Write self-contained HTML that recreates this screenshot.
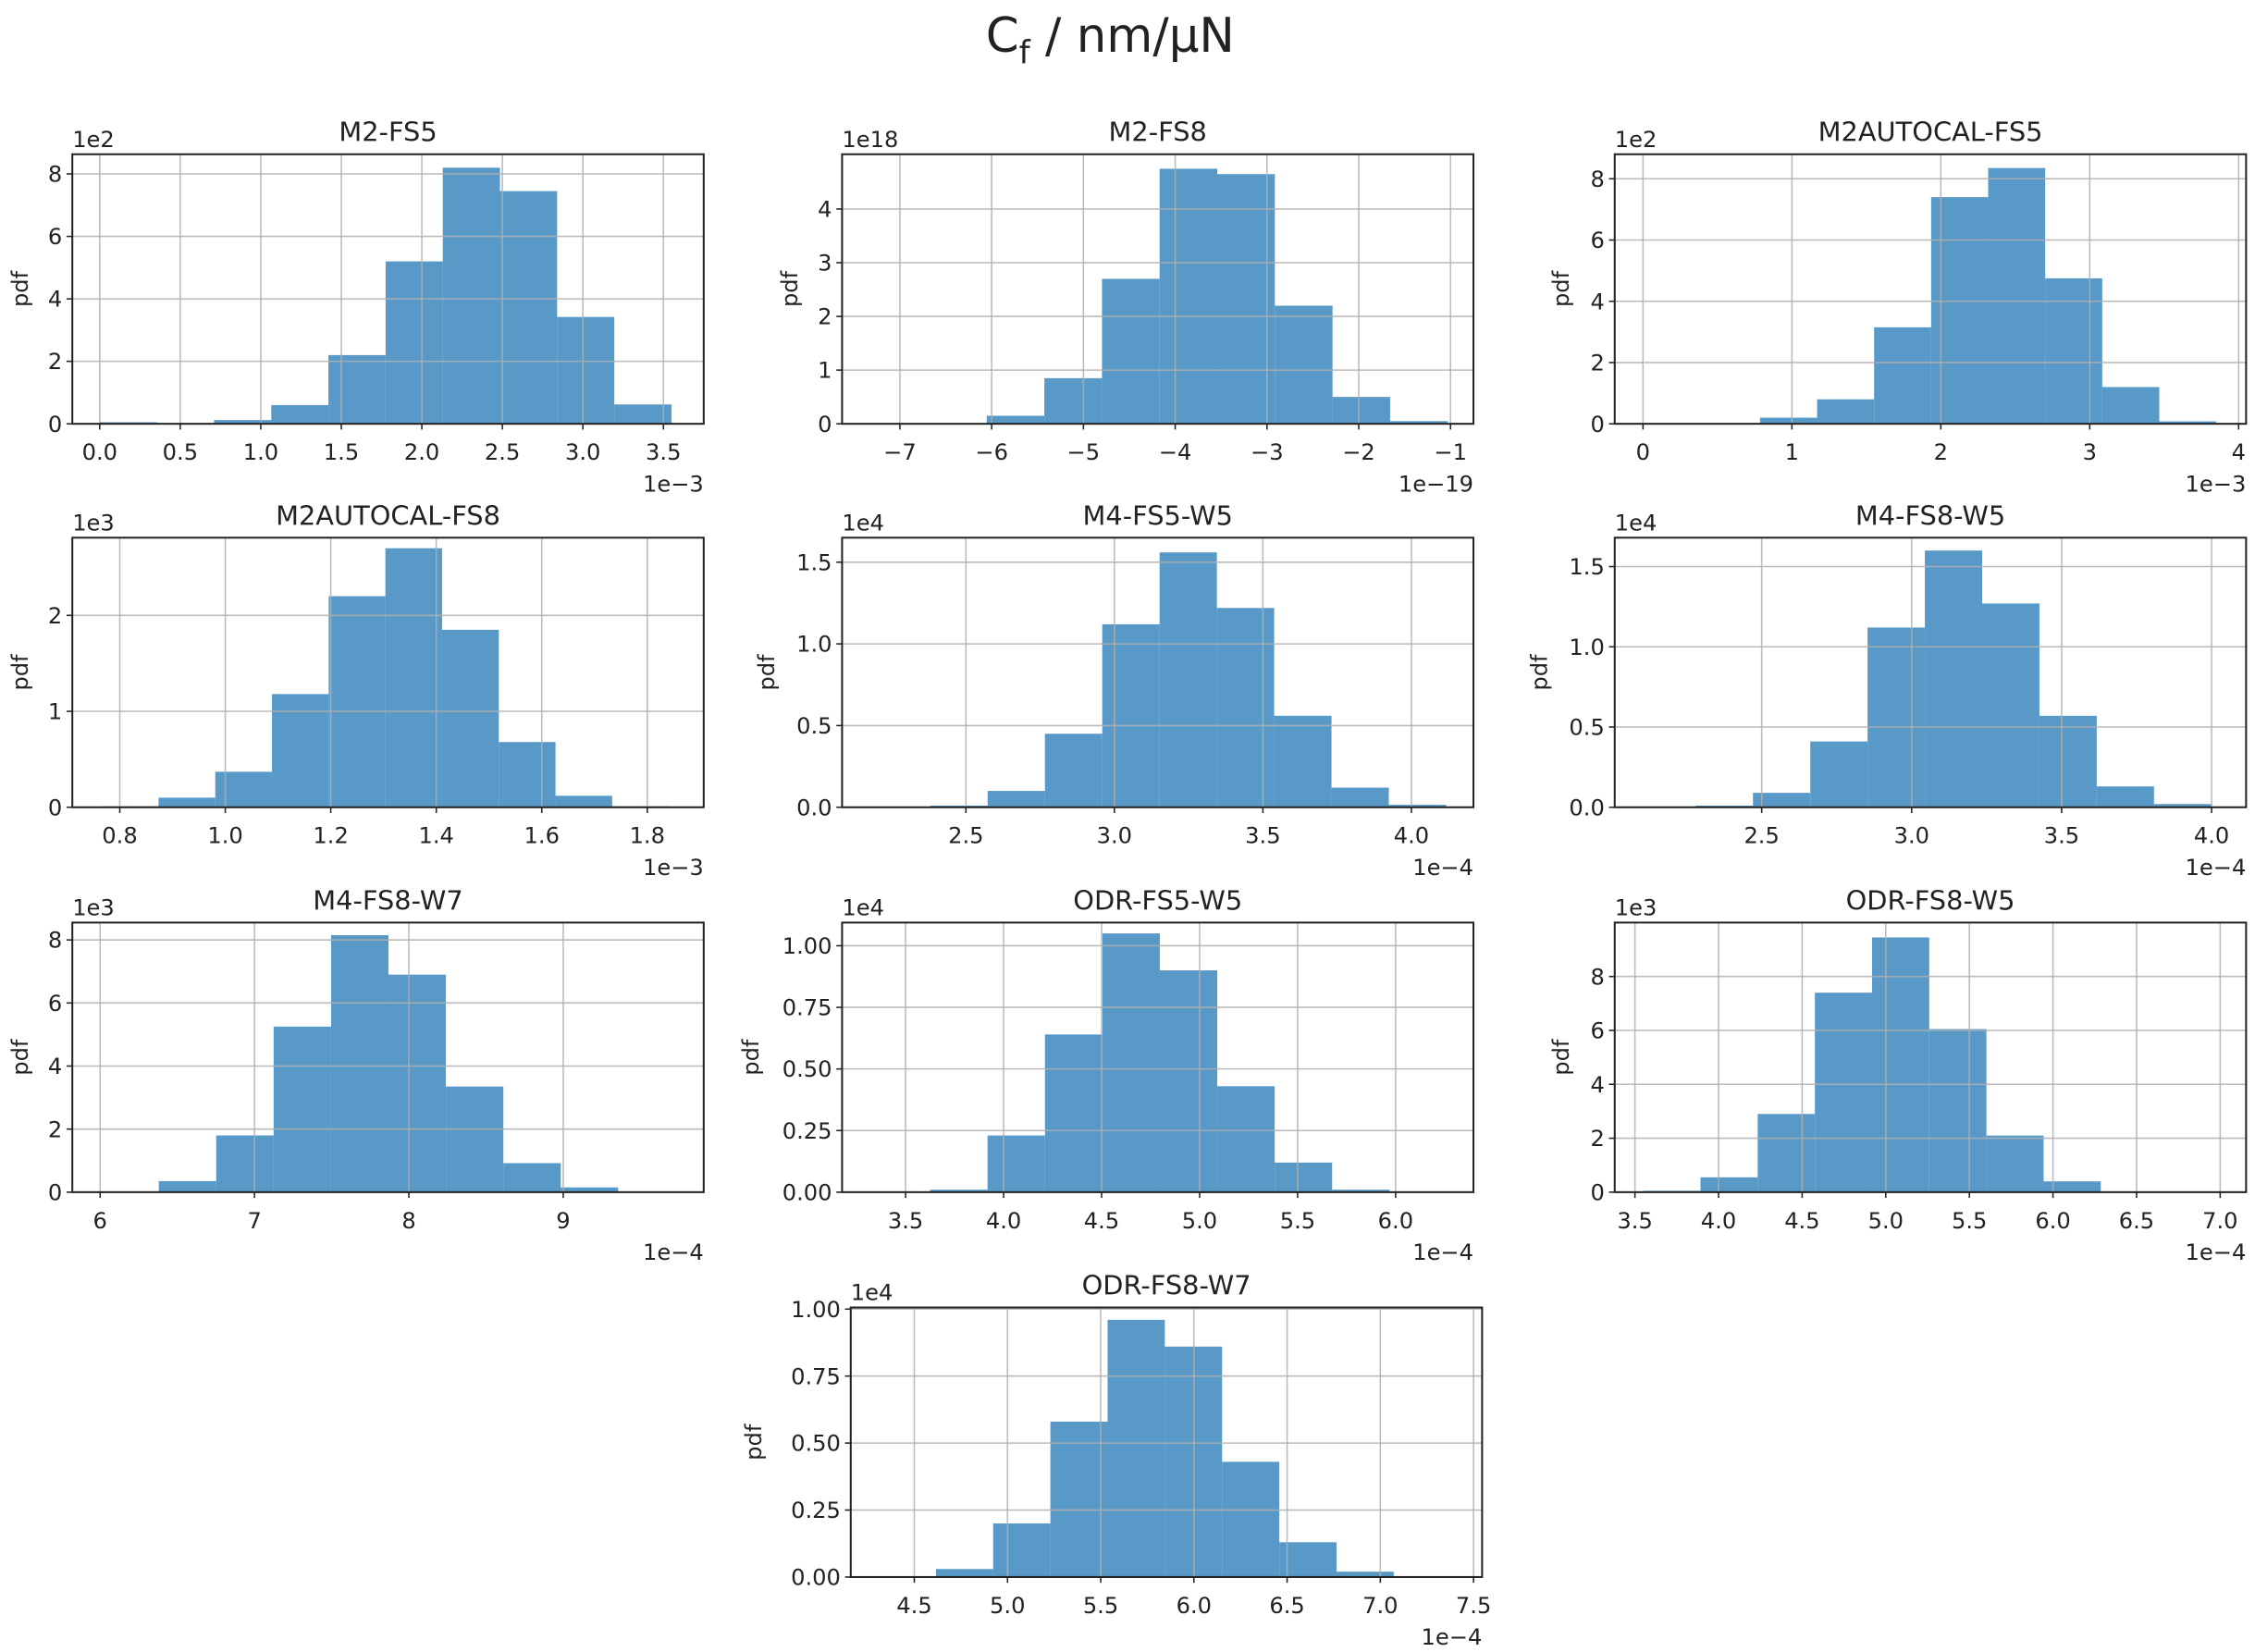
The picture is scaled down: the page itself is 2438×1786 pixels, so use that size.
<!DOCTYPE html>
<html><head><meta charset="utf-8"><style>
html,body{margin:0;padding:0;background:#fff}
svg{display:block}
text{font-family:"DejaVu Sans","Liberation Sans",sans-serif;fill:#222}
</style></head><body>
<svg id="fig" width="2438" height="1786" viewBox="0 0 1564 1146" xmlns="http://www.w3.org/2000/svg">
<text x="770" y="36" text-anchor="middle" font-size="33">C<tspan font-size="22" dy="8">f</tspan><tspan dy="-8"> / nm/μN</tspan></text>
</svg>
<script>
// ---- data arrays (per panel) ----
const titles = ["M2-FS5","M2-FS8","M2AUTOCAL-FS5","M2AUTOCAL-FS8","M4-FS5-W5","M4-FS8-W5","M4-FS8-W7","ODR-FS5-W5","ODR-FS8-W5","ODR-FS8-W7"];
const yExp = ["1e2","1e18","1e2","1e3","1e4","1e4","1e3","1e4","1e3","1e4"];
const xExp = ["1e\u22123","1e\u221219","1e\u22123","1e\u22123","1e\u22124","1e\u22124","1e\u22124","1e\u22124","1e\u22124","1e\u22124"];
const binStart = [0.0,-7.31,0.02,0.766,2.187,2.28,6.38,3.625,3.55,4.616];
const binWidth = [0.355,0.628,0.383,0.1075,0.193,0.191,0.372,0.293,0.342,0.307];
const h0 = [0.05,0.02,0.12,0.6,2.2,5.2,8.2,7.45,3.42,0.62];
const h1 = [0.0,0.01,0.15,0.85,2.7,4.75,4.65,2.2,0.5,0.05];
const h2 = [0.01,0.01,0.2,0.8,3.15,7.4,8.35,4.75,1.2,0.08];
const h3 = [0.01,0.1,0.37,1.18,2.2,2.7,1.85,0.68,0.12,0.01];
const h4 = [0.004,0.01,0.1,0.45,1.12,1.56,1.22,0.56,0.12,0.015];
const h5 = [0.01,0.09,0.41,1.12,1.6,1.27,0.57,0.13,0.02];
const h6 = [0.35,1.8,5.25,8.15,6.9,3.35,0.92,0.15];
const h7 = [0.01,0.23,0.64,1.05,0.9,0.43,0.12,0.01];
const h8 = [0.05,0.55,2.9,7.4,9.45,6.05,2.1,0.4,0.02];
const h9 = [0.03,0.2,0.58,0.96,0.86,0.43,0.13,0.02];
const heights = [h0,h1,h2,h3,h4,h5,h6,h7,h8,h9];
const xMin = [-0.17,-7.63,-0.19,0.71,2.083,2.01,5.82,3.176,3.379,4.159];
const xMax = [3.75,-0.75,4.05,1.907,4.209,4.115,9.91,6.397,7.155,7.546];
const yMax = [8.63,5.02,8.8,2.81,1.65,1.68,8.55,1.094,10.0,1.006];
const xt0 = ["0.0","0.5","1.0","1.5","2.0","2.5","3.0","3.5"];
const xt1 = ["\u22127","\u22126","\u22125","\u22124","\u22123","\u22122","\u22121"];
const xt2 = ["0","1","2","3","4"];
const xt3 = ["0.8","1.0","1.2","1.4","1.6","1.8"];
const xt4 = ["2.5","3.0","3.5","4.0"];
const xt6 = ["6","7","8","9"];
const xt7 = ["3.5","4.0","4.5","5.0","5.5","6.0"];
const xt8 = ["3.5","4.0","4.5","5.0","5.5","6.0","6.5","7.0"];
const xt9 = ["4.5","5.0","5.5","6.0","6.5","7.0","7.5"];
const xTicks = [xt0,xt1,xt2,xt3,xt4,xt4,xt6,xt7,xt8,xt9];
const ytA = ["0","2","4","6","8"];
const ytB = ["0","1","2","3","4"];
const ytC = ["0","1","2"];
const ytD = ["0.0","0.5","1.0","1.5"];
const ytE = ["0.00","0.25","0.50","0.75","1.00"];
const yTicks = [ytA,ytB,ytA,ytC,ytD,ytD,ytA,ytE,ytA,ytE];
// ---- layout (in 1564x1146 view units) ----
const boxes = [[50,107],[584,107],[1120,107],[50,373],[584,373],[1120,373],[50,640],[584,640],[1120,640],[590,907]];
const W = 438, H = 187;
const ylabOff = [36,36,37,36,52,52,36,63,37,67];

const NS = "http://www.w3.org/2000/svg";
const svg = document.getElementById("fig");
function mk(tag, attrs, parent){ const e=document.createElementNS(NS,tag); for(const k in attrs) e.setAttribute(k,attrs[k]); (parent||svg).appendChild(e); return e; }

for (let p=0;p<10;p++){
  const [L,T] = boxes[p];
  const g = mk("g",{});
  
  
  const sx = v => L + (v - xMin[p])/(xMax[p]-xMin[p])*W;
  const sy = v => T + H - v/yMax[p]*H;
  heights[p].forEach((hv,i)=>{
    const x0 = binStart[p] + i*binWidth[p], x1 = x0 + binWidth[p];
    const r = mk("rect",{x:sx(x0),y:sy(hv),width:Math.max(0,sx(x1)-sx(x0)),height:Math.max(0,sy(0)-sy(hv)),fill:"#5899c8"},g);
    
    
  });
  xTicks[p].forEach(t=>{
    const v = parseFloat(t.replace("\u2212","-")); const x = sx(v);
    const gl = mk("line",{x1:x,x2:x,y1:T,y2:T+H,stroke:"#b0b0b0","stroke-width":1,opacity:0.85},g);
    
    
    mk("line",{x1:x,x2:x,y1:T+H,y2:T+H+4,stroke:"#222","stroke-width":1},g);
    const tx = mk("text",{x:x,y:T+H+25,"text-anchor":"middle","font-size":15.5},g);
    tx.textContent = t;
    
    
  });
  yTicks[p].forEach(t=>{
    const v = parseFloat(t); const y = sy(v);
    const gl = mk("line",{x1:L,x2:L+W,y1:y,y2:y,stroke:"#b0b0b0","stroke-width":1,opacity:0.85},g);
    
    
    mk("line",{x1:L-4,x2:L,y1:y,y2:y,stroke:"#222","stroke-width":1},g);
    const tx = mk("text",{x:L-7,y:y+5.5,"text-anchor":"end","font-size":15.5},g);
    tx.textContent = t;
    
    
  });
  const fr = mk("rect",{x:L,y:T,width:W,height:H,fill:"none",stroke:"#222","stroke-width":1.3},g);
  
  
  const ti = mk("text",{x:L+W/2,y:T-9,"text-anchor":"middle","font-size":18.5},g);
  ti.textContent = titles[p];
  
  
  const ye = mk("text",{x:L,y:T-5,"font-size":15.5},g);
  ye.textContent = yExp[p];
  
  
  const xe = mk("text",{x:L+W,y:T+H+47,"text-anchor":"end","font-size":15.5},g);
  xe.textContent = xExp[p];
  
  
  const yl = mk("text",{x:0,y:0,"text-anchor":"middle","font-size":15.5,transform:`translate(${L-ylabOff[p]+5},${T+H/2}) rotate(-90)`},g);
  yl.textContent = "pdf";
  
  
}
</script>
</body></html>
